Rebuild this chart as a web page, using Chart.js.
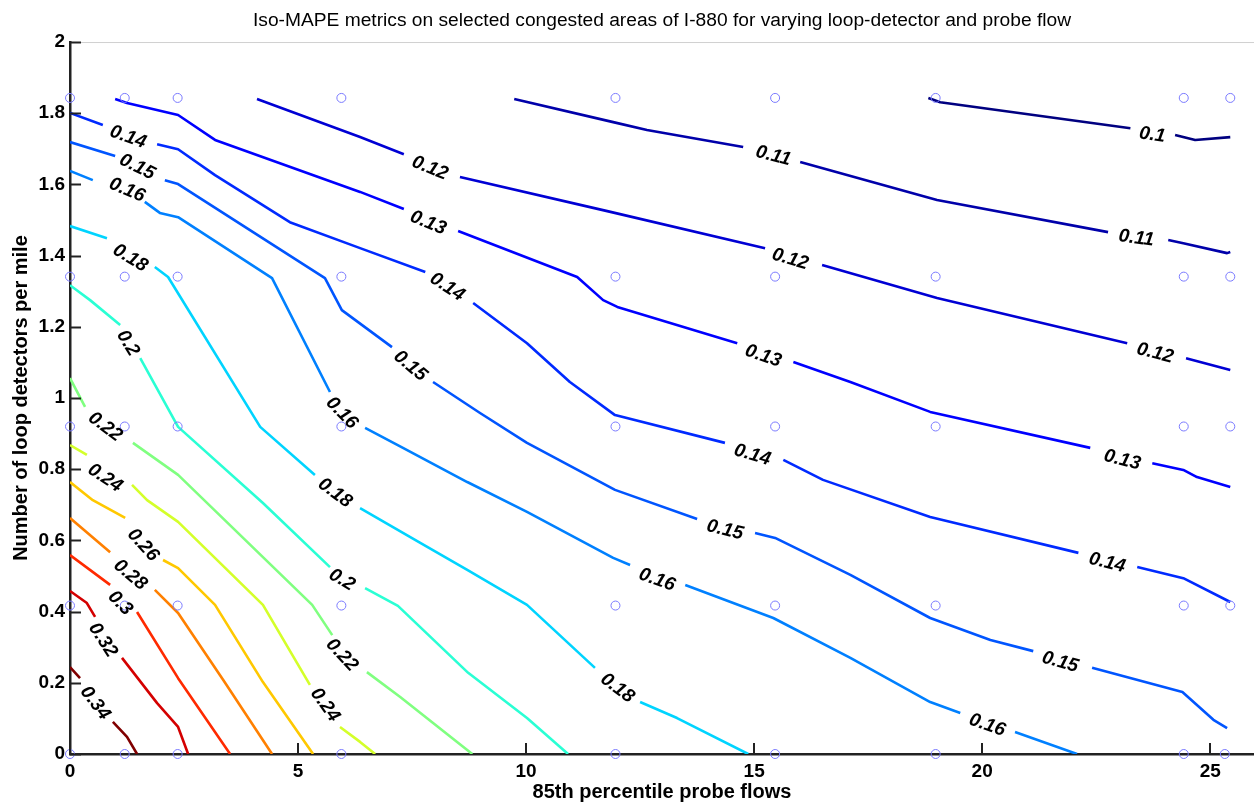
<!DOCTYPE html>
<html><head><meta charset="utf-8">
<script src="https://cdn.jsdelivr.net/npm/chart.js@4/dist/chart.umd.min.js"></script>
<style>html,body{margin:0;padding:0;background:#fff;}#wrap{width:1254px;height:804px;}</style>
</head><body><div id="wrap"><canvas id="c" width="1254" height="804"></canvas></div>
<script>
// ---------------- data ----------------
const titleText = 'Iso-MAPE metrics on selected congested areas of I-880 for varying loop-detector and probe flow';
const xLabel = '85th percentile probe flows';
const yLabel = 'Number of loop detectors per mile';
const xTicks = [0, 5, 10, 15, 20, 25];
const yTicks = [0, 0.2, 0.4, 0.6, 0.8, 1, 1.2, 1.4, 1.6, 1.8, 2];

// sample locations (circles)
const sampleX = [0, 1.2, 2.36, 5.95, 11.96, 15.46, 18.98, 24.42, 25.44];
const sampleXBottom = [0, 1.2, 2.36, 5.95, 11.96, 15.46, 18.98, 24.42, 25.32];
const sampleY = [0, 0.417, 0.92, 1.341, 1.843];

// contour levels, colours
const levels = [0.1, 0.11, 0.12, 0.13, 0.14, 0.15, 0.16, 0.18, 0.2, 0.22, 0.24, 0.26, 0.28, 0.3, 0.32, 0.34];
const levelColors = ['#000080','#0000AA','#0000D4','#0000FF','#002AFF','#0055FF','#0080FF','#00D4FF','#2AFFD4','#80FF80','#D4FF2A','#FFC800','#FF8000','#FF2A00','#D40000','#800000'];

// contour paths [x, y]; null = gap where a label sits
const c010 = [[18.82,1.843],[19.08,1.831],[23.25,1.758],null,[24.23,1.739],[24.67,1.725],[25.44,1.733]];
const c011 = [[9.74,1.840],[11.91,1.775],[12.65,1.753],[14.76,1.705],null,[16.01,1.663],[19.01,1.556],[22.76,1.466],null,[24.08,1.444],[24.41,1.435],[25.37,1.407],[25.44,1.410]];
const c012 = [[4.10,1.840],[6.36,1.733],[7.32,1.685],null,[8.55,1.621],[11.78,1.525],[15.24,1.421],null,[16.49,1.374],[19.01,1.281],[23.18,1.154],null,[24.47,1.112],[25.44,1.079]];
const c013 = [[0.99,1.840],[1.25,1.829],[2.37,1.795],[3.18,1.725],[6.36,1.579],[7.32,1.531],null,[8.51,1.469],[11.12,1.340],[11.69,1.275],[12.00,1.256],[14.63,1.154],null,[15.86,1.101],[17.11,1.045],[18.86,0.961],[22.37,0.860],null,[23.73,0.817],[24.41,0.798],[24.71,0.778],[25.44,0.750]];
const c014 = [[0,1.801],[0.72,1.767],null,[1.91,1.713],[2.37,1.699],[3.18,1.626],[4.82,1.494],[6.36,1.421],[7.79,1.354],null,[8.84,1.267],[10.02,1.154],[10.96,1.045],[11.95,0.952],[14.36,0.874],null,[15.64,0.826],[16.51,0.770],[18.86,0.666],[22.11,0.565],null,[23.40,0.525],[24.41,0.494],[25.44,0.427]];
const c015 = [[0,1.719],[0.99,1.680],null,[2.08,1.612],[2.37,1.601],[5.59,1.337],[5.96,1.247],[7.06,1.143],null,[7.96,1.045],[8.99,0.958],[10.02,0.874],[11.95,0.742],[13.75,0.660],null,[15.02,0.621],[15.46,0.607],[17.11,0.503],[18.86,0.382],[20.18,0.320],[21.12,0.289],null,[22.41,0.242],[24.39,0.174],[25.07,0.096],[25.37,0.073]];
const c016 = [[0,1.638],[0.50,1.612],null,[1.64,1.551],[1.97,1.520],[2.37,1.508],[4.43,1.337],[5.70,1.017],null,[6.47,0.916],[7.30,0.860],[8.71,0.764],[10.02,0.680],[11.91,0.551],[12.28,0.531],null,[13.49,0.475],[15.42,0.382],[17.11,0.270],[18.86,0.146],[19.52,0.115],null,[20.72,0.062],[22.08,0]];
const c018 = [[0,1.483],[0.81,1.449],null,[1.86,1.368],[2.15,1.340],[4.17,0.919],[5.37,0.784],null,[6.36,0.691],[7.68,0.593],[8.71,0.517],[10.02,0.419],[11.51,0.242],null,[12.50,0.146],[13.31,0.101],[14.87,0]];
const c020 = [[0,1.317],[0.44,1.275],[1.10,1.205],null,[1.54,1.112],[2.37,0.919],[4.23,0.705],[5.70,0.525],null,[6.47,0.466],[7.19,0.416],[8.73,0.228],[10.02,0.101],[10.92,0]];
const c022 = [[0,1.056],[0.33,0.975],null,[1.38,0.874],[2.37,0.784],[5.31,0.419],[5.75,0.334],null,[6.51,0.230],[7.24,0.160],[8.82,0]];
const c024 = [[0,0.868],[0.37,0.840],null,[1.36,0.756],[1.69,0.713],[2.37,0.652],[4.23,0.419],[5.26,0.194],null,[5.92,0.076],[6.36,0.034],[6.69,0]];
const c026 = [[0,0.764],[0.50,0.713],[1.21,0.663],null,[2.04,0.545],[2.37,0.522],[3.18,0.419],[4.23,0.202],[5.33,0]];
const c028 = [[0,0.663],[0.88,0.567],null,[1.86,0.461],[2.37,0.396],[3.36,0.208],[4.43,0]];
const c030 = [[0,0.559],[0.88,0.475],null,[1.47,0.399],[2.37,0.213],[3.51,0]];
const c032 = [[0,0.458],[0.37,0.424],[0.55,0.385],null,[1.14,0.270],[1.91,0.143],[2.37,0.076],[2.59,0]];
const c034 = [[0,0.244],[0.22,0.213],null,[0.94,0.090],[1.25,0.048],[1.47,0]];
const contours = [c010,c011,c012,c013,c014,c015,c016,c018,c020,c022,c024,c026,c028,c030,c032,c034];

// label anchor points, one per gap, in data units
const lab010 = [[23.73,1.739]];
const lab011 = [[15.42,1.680],[23.38,1.449]];
const lab012 = [[7.89,1.646],[15.79,1.390],[23.79,1.126]];
const lab013 = [[7.85,1.492],[15.20,1.118],[23.07,0.826]];
const lab014 = [[1.27,1.733],[8.27,1.312],[14.96,0.840],[22.74,0.537]];
const lab015 = [[1.47,1.649],[7.46,1.090],[14.36,0.629],[21.71,0.258]];
const lab016 = [[1.25,1.584],[5.96,0.958],[12.87,0.489],[20.11,0.081]];
const lab018 = [[1.32,1.393],[5.81,0.733],[12.00,0.185]];
const lab020 = [[1.27,1.154],[5.96,0.489]];
const lab022 = [[0.77,0.919],[5.96,0.278]];
const lab024 = [[0.77,0.775],[5.59,0.138]];
const lab026 = [[1.60,0.587]];
const lab028 = [[1.32,0.503]];
const lab030 = [[1.10,0.424]];
const lab032 = [[0.72,0.320]];
const lab034 = [[0.55,0.143]];
const labels = [lab010,lab011,lab012,lab013,lab014,lab015,lab016,lab018,lab020,lab022,lab024,lab026,lab028,lab030,lab032,lab034];

// ---------------- chart ----------------
const FONT = '"Liberation Sans", Arial, sans-serif';

function toData(path){
  const out = []; let lastX = 0;
  path.forEach(p => {
    if (p === null) out.push({x:lastX, y:null});
    else { out.push({x:p[0], y:p[1]}); lastX = p[0]; }
  });
  return out;
}

const datasets = contours.map((path, i) => ({
  type: 'scatter', label: String(levels[i]), data: toData(path),
  showLine: true, spanGaps: false, borderColor: levelColors[i], backgroundColor: levelColors[i],
  borderWidth: 2.6, pointRadius: 0, tension: 0, borderJoinStyle: 'round', order: 2
}));

const samplePts = [];
sampleY.forEach(y => (y === 0 ? sampleXBottom : sampleX).forEach(x => samplePts.push({x, y})));
datasets.push({
  type: 'scatter', label: 'samples', data: samplePts, showLine: false,
  pointRadius: 4.5, pointStyle: 'circle', pointBorderColor: '#7a7aff', pointBackgroundColor: 'rgba(0,0,0,0)',
  pointBorderWidth: 1, clip: false, order: 1
});

const decor = {
  id: 'decor',
  beforeDatasetsDraw(chart){
    const {ctx, chartArea:a} = chart;
    ctx.save();
    ctx.strokeStyle = '#d0d0d0'; ctx.lineWidth = 1;
    ctx.beginPath(); ctx.moveTo(a.left, a.top + 0.5); ctx.lineTo(a.right, a.top + 0.5); ctx.stroke();
    ctx.restore();
  },
  afterDatasetsDraw(chart){
    const {ctx, chartArea:a, scales:{x, y}} = chart;
    ctx.save();
    // inward ticks
    ctx.strokeStyle = '#222'; ctx.lineWidth = 2;
    yTicks.forEach(v => { const py = Math.round(y.getPixelForValue(v)) + 0.5 ; ctx.beginPath(); ctx.moveTo(a.left, py); ctx.lineTo(a.left + 11, py); ctx.stroke(); });
    xTicks.forEach(v => { const px = Math.round(x.getPixelForValue(v)) ; ctx.beginPath(); ctx.moveTo(px, a.bottom); ctx.lineTo(px, a.bottom - 11); ctx.stroke(); });
    // contour labels
    ctx.fillStyle = '#000';
    ctx.font = 'italic bold 19px ' + FONT;
    ctx.textAlign = 'center'; ctx.textBaseline = 'middle';
    contours.forEach((path, i) => {
      const gaps = [];
      path.forEach((p, k) => { if (p === null) gaps.push(k); });
      labels[i].forEach((lp, j) => {
        const g = gaps[j];
        const p0 = path[g-1], p1 = path[g+1];
        const x0 = x.getPixelForValue(p0[0]), y0 = y.getPixelForValue(p0[1]);
        const x1 = x.getPixelForValue(p1[0]), y1 = y.getPixelForValue(p1[1]);
        let ang = Math.atan2(y1 - y0, x1 - x0);
        if (ang > Math.PI/2) ang -= Math.PI; if (ang < -Math.PI/2) ang += Math.PI;
        ctx.save();
        ctx.translate(x.getPixelForValue(lp[0]), y.getPixelForValue(lp[1]));
        ctx.rotate(ang);
        ctx.fillText(String(levels[i]), 0, 0);
        ctx.restore();
      });
    });
    ctx.restore();
  }
};

new Chart(document.getElementById('c'), {
  type: 'scatter',
  data: { datasets },
  options: {
    responsive: false, animation: false, devicePixelRatio: 1,
    layout: { autoPadding: false, padding: { top: 0, left: 0, right: 0, bottom: 0 } },
    plugins: {
      legend: { display: false }, tooltip: { enabled: false },
      title: { display: true, fullSize: false, text: titleText, color: '#000',
        font: { family: FONT, size: 19.2, weight: 'normal', lineHeight: 1.2 },
        padding: { top: 9, bottom: 10 } }
    },
    scales: {
      x: {
        type: 'linear', min: 0, max: 25.96,
        afterBuildTicks: s => { s.ticks = xTicks.map(v => ({value: v})); },
        afterFit: s => { s.height = 50; s.paddingRight = 0; s.paddingLeft = 0; },
        grid: { display: true, drawOnChartArea: false, drawTicks: false },
        border: { display: true, color: '#222', width: 2.5 },
        ticks: { color: '#000', padding: 6, maxRotation: 0, callback: v => String(v),
          font: { family: FONT, size: 19, weight: 'bold' } },
        title: { display: true, text: xLabel, color: '#000', padding: { top: 0, bottom: 0 },
          font: { family: FONT, size: 20, weight: 'bold' } }
      },
      y: {
        type: 'linear', min: 0, max: 2,
        afterBuildTicks: s => { s.ticks = yTicks.map(v => ({value: v})); },
        afterFit: s => { s.width = 70; s.paddingTop = 0; s.paddingBottom = 0; },
        grid: { display: true, drawOnChartArea: false, drawTicks: false },
        border: { display: true, color: '#222', width: 2.5 },
        ticks: { color: '#000', padding: 5, callback: v => String(Math.round(v * 10) / 10),
          font: { family: FONT, size: 19, weight: 'bold' } },
        title: { display: true, text: yLabel, color: '#000', padding: { top: 9, bottom: 0 },
          font: { family: FONT, size: 20, weight: 'bold' } }
      }
    }
  },
  plugins: [decor]
});
</script>
</body></html>
